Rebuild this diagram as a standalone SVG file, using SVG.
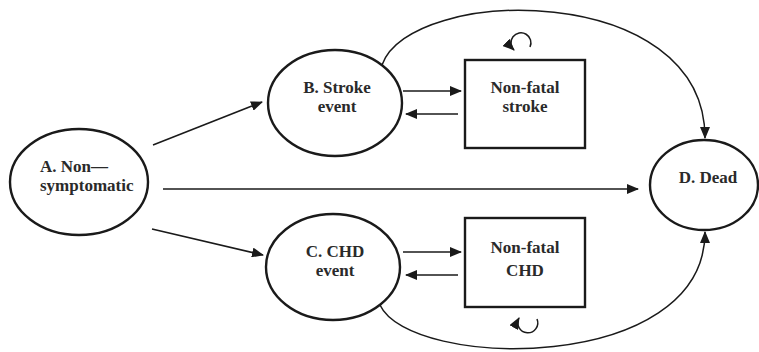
<svg xmlns="http://www.w3.org/2000/svg" width="759" height="352" viewBox="0 0 759 352">
<style>
.node{fill:#fff;stroke:#1a1a1a;stroke-width:2.4}
.lbl{font-family:"Liberation Serif","Times New Roman",serif;font-weight:bold;font-size:17px;fill:#2a2a2a;text-anchor:middle}
.edge{fill:none;stroke:#1a1a1a;stroke-width:1.5}
</style>
<defs>
<marker id="ah" markerUnits="userSpaceOnUse" markerWidth="12" markerHeight="10" refX="11" refY="5" orient="auto">
<path d="M0,0 L12,5 L0,10 Z" fill="#1a1a1a"/>
</marker>
</defs>
<g id="connectors">
<path class="edge" d="M153,145 L262,102" marker-end="url(#ah)"/>
<path class="edge" d="M152,229 L263,255" marker-end="url(#ah)"/>
<path class="edge" d="M163,189 L638,189" marker-end="url(#ah)"/>
<path class="edge" d="M403,91 L461,91" marker-end="url(#ah)"/>
<path class="edge" d="M458,114 L406,114" marker-end="url(#ah)"/>
<path class="edge" d="M403,252 L461,252" marker-end="url(#ah)"/>
<path class="edge" d="M458,275 L406,275" marker-end="url(#ah)"/>
<path class="edge" d="M382,65 C410,-15 705,-20 705,138" marker-end="url(#ah)"/>
<path class="edge" d="M380,305 C410,370 705,375 705,232" marker-end="url(#ah)"/>
<path class="edge" d="M530,47 A10,10 0 1 0 514,50" marker-end="url(#ah)"/>
<path class="edge" d="M537,319 A10,10 0 1 1 519,318" marker-end="url(#ah)"/>
</g>
<g id="nodeA">
<ellipse class="node" cx="79" cy="182" rx="69" ry="53"/>
<text class="lbl" style="text-anchor:start" x="40" y="172">A. Non—</text>
<text class="lbl" style="text-anchor:start" x="40" y="191">symptomatic</text>
</g>
<g id="nodeB">
<ellipse class="node" cx="335" cy="103" rx="67" ry="53"/>
<text class="lbl" x="337" y="93">B. Stroke</text>
<text class="lbl" x="337" y="112">event</text>
</g>
<g id="nodeNFS">
<rect class="node" x="465" y="60" width="120" height="88"/>
<text class="lbl" x="525" y="93">Non-fatal</text>
<text class="lbl" x="525" y="112">stroke</text>
</g>
<g id="nodeC">
<ellipse class="node" cx="333" cy="267" rx="67" ry="53"/>
<text class="lbl" x="335" y="257">C. CHD</text>
<text class="lbl" x="335" y="276">event</text>
</g>
<g id="nodeNFC">
<rect class="node" x="465" y="218" width="120" height="89"/>
<text class="lbl" x="525" y="253">Non-fatal</text>
<text class="lbl" x="525" y="276">CHD</text>
</g>
<g id="nodeD">
<ellipse class="node" cx="704" cy="185" rx="54" ry="45"/>
<text class="lbl" x="708" y="183">D. Dead</text>
</g>
</svg>
